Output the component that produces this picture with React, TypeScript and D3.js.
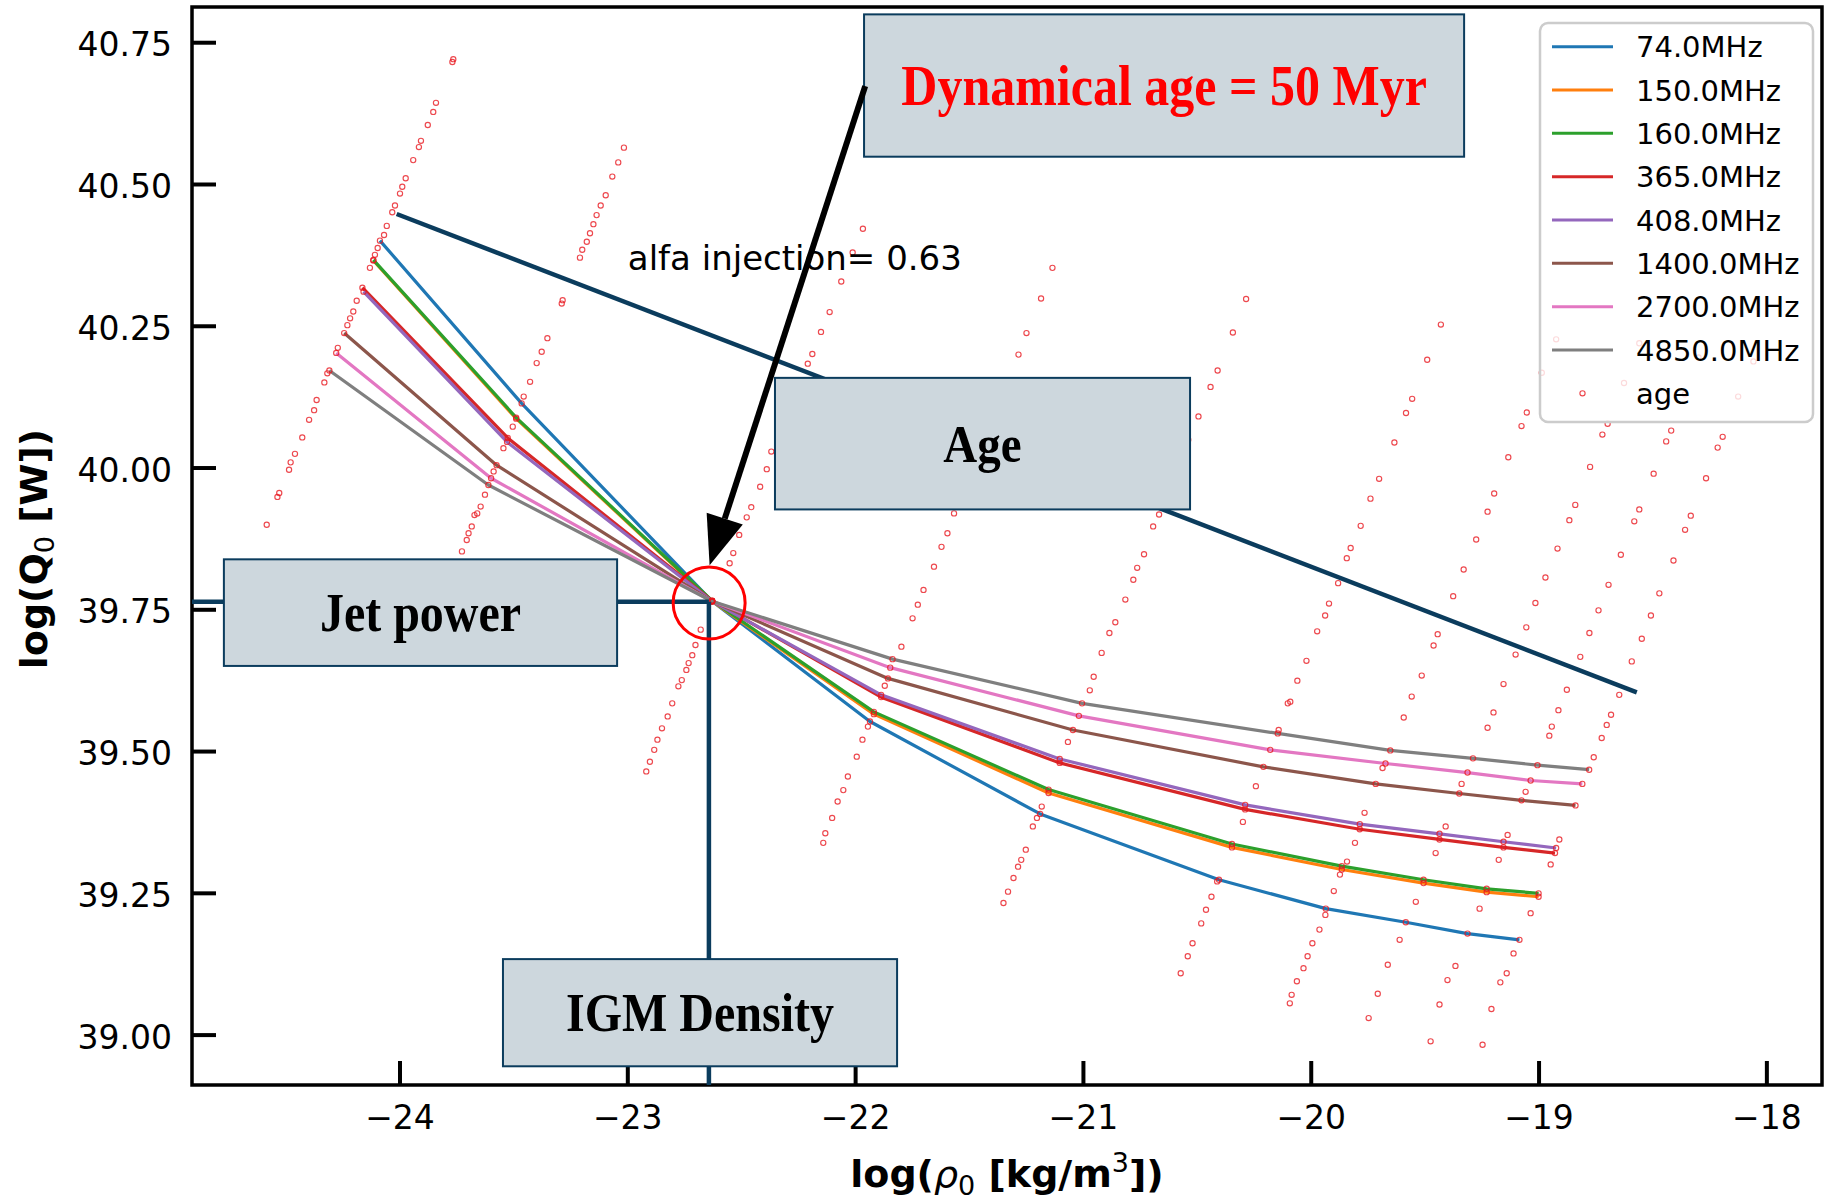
import React, { useEffect } from 'react';
import * as d3 from 'd3';

const W = 1826;
const H = 1204;

// Jet power vs. IGM density at the dynamical age, one curve per observing frequency
const freqLabels = ['74.0MHz', '150.0MHz', '160.0MHz', '365.0MHz', '408.0MHz', '1400.0MHz', '2700.0MHz', '4850.0MHz'];
const freqColors = ['#1f77b4', '#ff7f0e', '#2ca02c', '#d62728', '#9467bd', '#8c564b', '#e377c2', '#7f7f7f'];

const rho74 = [-24.088, -23.466, -22.63, -21.937, -21.19, -20.405, -19.936, -19.585, -19.314, -19.086];
const q74 = [40.401, 40.114, 39.765, 39.553, 39.39, 39.274, 39.223, 39.199, 39.179, 39.168];

const rho150 = [-24.117, -23.49, -22.63, -21.92, -21.153, -20.348, -19.866, -19.507, -19.23, -19.002];
const q150 = [40.366, 40.087, 39.765, 39.566, 39.427, 39.331, 39.292, 39.268, 39.252, 39.244];

const rho160 = [-24.117, -23.49, -22.63, -21.92, -21.153, -20.348, -19.866, -19.507, -19.23, -19.002];
const q160 = [40.367, 40.089, 39.766, 39.57, 39.433, 39.337, 39.298, 39.274, 39.258, 39.25];

const rho365 = [-24.165, -23.527, -22.63, -21.888, -21.104, -20.29, -19.787, -19.437, -19.156, -18.93];
const q365 = [40.318, 40.053, 39.766, 39.596, 39.48, 39.398, 39.363, 39.345, 39.331, 39.321];

const rho408 = [-24.16, -23.53, -22.63, -21.888, -21.104, -20.29, -19.787, -19.437, -19.156, -18.925];
const q408 = [40.311, 40.046, 39.765, 39.6, 39.487, 39.406, 39.372, 39.355, 39.341, 39.33];

const rho1400 = [-24.245, -23.576, -22.63, -21.858, -21.046, -20.21, -19.717, -19.35, -19.077, -18.84];
const q1400 = [40.238, 40.005, 39.765, 39.629, 39.538, 39.473, 39.443, 39.426, 39.414, 39.405];

const rho2700 = [-24.28, -23.6, -22.63, -21.848, -21.02, -20.18, -19.674, -19.314, -19.037, -18.81];
const q2700 = [40.203, 39.982, 39.765, 39.648, 39.563, 39.503, 39.479, 39.463, 39.449, 39.443];

const rho4850 = [-24.31, -23.612, -22.63, -21.838, -21.006, -20.147, -19.653, -19.29, -19.007, -18.78];
const q4850 = [40.172, 39.97, 39.765, 39.663, 39.585, 39.532, 39.502, 39.488, 39.476, 39.468];

// age tracks: (log rho0, log Q0) solutions, one track per density step
const ageTrack1: [number, number][] = [
  [-23.766, 40.721], [-23.770, 40.716], [-23.842, 40.644], [-23.854, 40.628], [-23.878, 40.605], [-23.908, 40.577],
  [-23.917, 40.566], [-23.942, 40.543], [-23.975, 40.511], [-23.990, 40.496], [-24.000, 40.484], [-24.022, 40.463],
  [-24.034, 40.451], [-24.058, 40.427], [-24.070, 40.411], [-24.098, 40.388], [-24.110, 40.376], [-24.132, 40.353],
  [-24.190, 40.295], [-24.205, 40.276], [-24.219, 40.264], [-24.231, 40.252], [-24.273, 40.212], [-24.319, 40.167],
  [-24.332, 40.151], [-24.366, 40.120], [-24.377, 40.102], [-24.399, 40.085], [-24.429, 40.054], [-24.461, 40.025],
  [-24.480, 40.010], [-24.487, 39.997], [-24.530, 39.956], [-24.538, 39.949], [-24.585, 39.900],
];
const ageTrack2: [number, number][] = [
  [-23.017, 40.565], [-23.042, 40.539], [-23.068, 40.514], [-23.097, 40.481], [-23.119, 40.463], [-23.137, 40.446],
  [-23.151, 40.430], [-23.166, 40.414], [-23.180, 40.399], [-23.200, 40.385], [-23.210, 40.371], [-23.286, 40.296],
  [-23.290, 40.290], [-23.353, 40.229], [-23.378, 40.205], [-23.400, 40.185], [-23.429, 40.152], [-23.457, 40.126],
  [-23.505, 40.073], [-23.546, 40.035], [-23.589, 39.994], [-23.627, 39.953], [-23.646, 39.932], [-23.661, 39.920],
  [-23.673, 39.917], [-23.685, 39.897], [-23.699, 39.885], [-23.707, 39.873], [-23.728, 39.853],
];
const ageTrack3: [number, number][] = [
  [-22.919, 39.465], [-22.903, 39.482], [-22.884, 39.503], [-22.870, 39.521], [-22.850, 39.541], [-22.825, 39.562],
  [-22.805, 39.585], [-22.778, 39.615], [-22.763, 39.626], [-22.743, 39.644], [-22.733, 39.656], [-22.717, 39.670],
  [-22.703, 39.688], [-22.680, 39.715], [-22.553, 39.832], [-22.537, 39.850], [-22.511, 39.882], [-22.478, 39.913],
  [-22.458, 39.931], [-22.419, 39.967], [-22.390, 39.998], [-22.370, 40.029], [-22.330, 40.070], [-22.270, 40.130],
  [-22.210, 40.184], [-22.190, 40.201], [-22.152, 40.240], [-22.114, 40.275], [-22.063, 40.329], [-22.013, 40.380],
  [-21.968, 40.422],
];
const ageTrack4: [number, number][] = [
  [-22.142, 39.339], [-22.133, 39.356], [-22.103, 39.383], [-22.079, 39.412], [-22.054, 39.432], [-22.034, 39.456],
  [-21.995, 39.491], [-21.970, 39.521], [-21.946, 39.544], [-21.872, 39.616], [-21.799, 39.685], [-21.750, 39.735],
  [-21.727, 39.759], [-21.702, 39.785], [-21.656, 39.826], [-21.623, 39.861], [-21.597, 39.885], [-21.568, 39.920],
  [-21.500, 39.990], [-21.420, 40.060], [-21.350, 40.130], [-21.285, 40.200], [-21.250, 40.238], [-21.186, 40.299],
  [-21.136, 40.353],
];
const ageTrack5: [number, number][] = [
  [-21.351, 39.233], [-21.331, 39.253], [-21.307, 39.277], [-21.287, 39.297], [-21.273, 39.309], [-21.253, 39.327],
  [-21.222, 39.368], [-21.204, 39.383], [-21.183, 39.403], [-21.068, 39.517], [-20.972, 39.608], [-20.955, 39.632],
  [-20.920, 39.674], [-20.886, 39.709], [-20.860, 39.728], [-20.816, 39.768], [-20.781, 39.803], [-20.764, 39.824],
  [-20.734, 39.848], [-20.694, 39.897], [-20.668, 39.918], [-20.600, 39.990], [-20.540, 40.050], [-20.495, 40.091],
  [-20.442, 40.143], [-20.411, 40.172], [-20.344, 40.239], [-20.286, 40.298],
];
const ageTrack6: [number, number][] = [
  [-20.573, 39.109], [-20.542, 39.139], [-20.521, 39.162], [-20.483, 39.197], [-20.462, 39.221], [-20.438, 39.244],
  [-20.413, 39.271], [-20.300, 39.376], [-20.243, 39.439], [-20.143, 39.538], [-20.103, 39.585], [-20.092, 39.588],
  [-20.061, 39.625], [-20.021, 39.660], [-19.974, 39.712], [-19.939, 39.740], [-19.922, 39.761], [-19.882, 39.797],
  [-19.844, 39.841], [-19.827, 39.859], [-19.783, 39.898], [-19.740, 39.946], [-19.702, 39.981], [-19.635, 40.045],
  [-19.584, 40.097], [-19.557, 40.122], [-19.491, 40.191], [-19.431, 40.253],
];
const ageTrack7: [number, number][] = [
  [-20.094, 39.056], [-20.086, 39.071], [-20.063, 39.095], [-20.034, 39.118], [-20.016, 39.139], [-19.995, 39.162],
  [-19.964, 39.186], [-19.938, 39.212], [-19.901, 39.254], [-19.874, 39.283], [-19.843, 39.306], [-19.808, 39.339],
  [-19.766, 39.392], [-19.687, 39.471], [-19.594, 39.560], [-19.559, 39.597], [-19.515, 39.634], [-19.463, 39.687],
  [-19.445, 39.707], [-19.377, 39.774], [-19.331, 39.821], [-19.276, 39.874], [-19.226, 39.923], [-19.197, 39.955],
  [-19.135, 40.019], [-19.077, 40.074], [-19.054, 40.098], [-18.988, 40.168], [-18.925, 40.227],
];
const ageTrack8: [number, number][] = [
  [-19.748, 39.030], [-19.708, 39.073], [-19.664, 39.124], [-19.612, 39.168], [-19.541, 39.235], [-19.454, 39.321],
  [-19.410, 39.368], [-19.340, 39.443], [-19.226, 39.542], [-19.200, 39.569], [-19.156, 39.619], [-19.103, 39.671],
  [-19.056, 39.719], [-19.016, 39.762], [-18.972, 39.807], [-18.919, 39.858], [-18.867, 39.908], [-18.841, 39.935],
  [-18.776, 40.002], [-18.722, 40.059], [-18.699, 40.078], [-18.627, 40.150], [-18.560, 40.220],
];
const ageTrack9: [number, number][] = [
  [-19.476, 38.989], [-19.437, 39.054], [-19.402, 39.097], [-19.367, 39.122], [-19.261, 39.223], [-19.177, 39.309],
  [-19.138, 39.353], [-19.059, 39.429], [-18.955, 39.528], [-18.944, 39.544], [-18.915, 39.573], [-18.878, 39.609],
  [-18.819, 39.667], [-18.779, 39.709], [-18.739, 39.749], [-18.695, 39.794], [-18.641, 39.847], [-18.582, 39.906],
  [-18.560, 39.927], [-18.497, 39.990], [-18.442, 40.047], [-18.420, 40.066], [-18.360, 40.130], [-18.300, 40.195],
];
const ageTrack10: [number, number][] = [
  [-19.248, 38.983], [-19.209, 39.046], [-19.170, 39.093], [-19.142, 39.109], [-19.112, 39.144], [-19.037, 39.215],
  [-18.949, 39.301], [-18.911, 39.345], [-18.760, 39.490], [-18.725, 39.524], [-18.703, 39.547], [-18.684, 39.565],
  [-18.648, 39.600], [-18.593, 39.659], [-18.549, 39.699], [-18.509, 39.740], [-18.472, 39.779], [-18.410, 39.837],
  [-18.359, 39.891], [-18.334, 39.916], [-18.267, 39.982], [-18.216, 40.036], [-18.194, 40.055], [-18.126, 40.126],
  [-18.059, 40.188],
];

const xTicks = [-24, -23, -22, -21, -20, -19, -18];
const yTicks = [39.0, 39.25, 39.5, 39.75, 40.0, 40.25, 40.5, 40.75];

const sans = "'DejaVu Sans', 'Liberation Sans', sans-serif";
const serif = "'Liberation Serif', 'Times New Roman', serif";
const navy = '#0b3c5d';
const boxFill = '#cdd7dd';

export default function App() {
  useEffect(() => {
    document.body.style.margin = '0';
    document.body.style.overflow = 'hidden';
  }, []);

  const x = d3.scaleLinear().domain([-24.913, -17.758]).range([192, 1822]);
  const y = d3.scaleLinear().domain([38.912, 40.813]).range([1085, 7]);
  const [xl, xr] = x.range();
  const [yb, yt] = y.range();

  const rhos = [rho74, rho150, rho160, rho365, rho408, rho1400, rho2700, rho4850];
  const qs = [q74, q150, q160, q365, q408, q1400, q2700, q4850];
  const series = freqLabels.map((label, i) => ({
    label,
    color: freqColors[i],
    pts: rhos[i].map((r, j) => [r, qs[i][j]] as [number, number]),
  }));

  const line = d3
    .line<[number, number]>()
    .x((d) => x(d[0]))
    .y((d) => y(d[1]));

  const ageTracks = [ageTrack1, ageTrack2, ageTrack3, ageTrack4, ageTrack5, ageTrack6, ageTrack7, ageTrack8, ageTrack9, ageTrack10];
  const ageDots: [number, number][] = [...ageTracks.flat(), ...series.flatMap((s) => s.pts)];

  const dotStyle = { fill: 'none', stroke: '#e8141c', strokeOpacity: 0.78, strokeWidth: 1.15 };

  // annotation boxes in data coordinates
  const boxes = [
    { x0: -21.963, x1: -19.329, y0: 40.549, y1: 40.8, text: 'Dynamical age = 50 Myr', color: '#ff0000', size: 50 },
    { x0: -22.354, x1: -20.532, y0: 39.927, y1: 40.159, text: 'Age', color: '#000', size: 47 },
    { x0: -24.773, x1: -23.047, y0: 39.651, y1: 39.839, text: 'Jet power', color: '#000', size: 48 },
    { x0: -23.548, x1: -21.818, y0: 38.945, y1: 39.134, text: 'IGM Density', color: '#000', size: 48 },
  ];
  const textStretch = 1.14;

  // arrow from the age box down to the crossing point
  const aStart = [x(-21.958), y(40.6735)];
  const aTip = [x(-22.641), y(39.8285)];
  const dx = aTip[0] - aStart[0];
  const dy = aTip[1] - aStart[1];
  const len = Math.hypot(dx, dy);
  const ux = dx / len;
  const uy = dy / len;
  const headLen = 49;
  const headHalf = 19;
  const base = [aTip[0] - ux * headLen, aTip[1] - uy * headLen];
  const headPts = [
    [aTip[0], aTip[1]],
    [base[0] + -uy * headHalf, base[1] + ux * headHalf],
    [base[0] - -uy * headHalf, base[1] - ux * headHalf],
  ]
    .map((p) => p.join(','))
    .join(' ');

  const legendX = 1540;
  const legendY = 23;
  const rowY = (i: number) => 46.7 + i * 43.33;

  const crossX = -22.644;
  const crossY = 39.764;

  return (
    <svg
      width={W}
      height={H}
      viewBox={`0 0 ${W} ${H}`}
      style={{ position: 'absolute', left: 0, top: 0, display: 'block', background: '#fff' }}
    >
      <rect x={0} y={0} width={W} height={H} fill="#fff" />

      <defs>
        <clipPath id="plotArea">
          <rect x={xl} y={yt} width={xr - xl} height={yb - yt} />
        </clipPath>
      </defs>

      <g clipPath="url(#plotArea)">
        {series.map((s) => (
          <path key={s.label} d={line(s.pts) || ''} fill="none" stroke={s.color} strokeWidth={3.2} strokeLinejoin="round" />
        ))}
        {ageDots.map((d, i) => (
          <circle key={i} cx={x(d[0])} cy={y(d[1])} r={2.6} {...dotStyle} />
        ))}
      </g>

      <text x={x(-23)} y={y(40.35)} fontFamily={sans} fontSize={34} fill="#000">
        alfa injection= 0.63
      </text>

      {/* legend */}
      <g>
        <rect
          x={legendX}
          y={legendY}
          width={273}
          height={399}
          rx={8}
          ry={8}
          fill="#fff"
          fillOpacity={0.8}
          stroke="#cccccc"
          strokeWidth={2.5}
        />
        {series.map((s, i) => (
          <g key={s.label}>
            <line x1={1552} x2={1613} y1={rowY(i)} y2={rowY(i)} stroke={s.color} strokeWidth={3} />
            <text x={1636} y={rowY(i) + 10.5} fontFamily={sans} fontSize={29} fill="#000">
              {s.label}
            </text>
          </g>
        ))}
        <circle cx={1582.5} cy={rowY(8)} r={2.6} {...dotStyle} />
        <text x={1636} y={rowY(8) + 10.5} fontFamily={sans} fontSize={29} fill="#000">
          age
        </text>
      </g>

      {/* axes frame */}
      <rect x={xl} y={yt} width={xr - xl} height={yb - yt} fill="none" stroke="#000" strokeWidth={3.5} />
      {yTicks.map((t) => (
        <g key={`y${t}`}>
          <line x1={xl} x2={xl + 24} y1={y(t)} y2={y(t)} stroke="#000" strokeWidth={4} />
          <text x={172} y={y(t) + 13.5} textAnchor="end" fontFamily={sans} fontSize={33} fill="#000">
            {t.toFixed(2)}
          </text>
        </g>
      ))}
      {xTicks.map((t) => (
        <g key={`x${t}`}>
          <line x1={x(t)} x2={x(t)} y1={yb} y2={yb - 24} stroke="#000" strokeWidth={4} />
          <text x={x(t)} y={1129} textAnchor="middle" fontFamily={sans} fontSize={33} fill="#000">
            {t < 0 ? `\u2212${Math.abs(t)}` : `${t}`}
          </text>
        </g>
      ))}

      <text
        transform={`translate(47,${(yt + yb) / 2 + 3}) rotate(-90)`}
        textAnchor="middle"
        fontFamily={sans}
        fontWeight="bold"
        fontSize={38}
        fill="#000"
      >
        log(Q
        <tspan fontWeight="normal" fontSize={27} dy={7}>
          0
        </tspan>
        <tspan dy={-7}> [W])</tspan>
      </text>

      <text x={(xl + xr) / 2} y={1187} textAnchor="middle" fontFamily={sans} fontWeight="bold" fontSize={38} fill="#000">
        log(
        <tspan fontStyle="italic" fontWeight="normal">
          ρ
        </tspan>
        <tspan fontWeight="normal" fontSize={27} dy={8}>
          0
        </tspan>
        <tspan dy={-8}> [kg/m</tspan>
        <tspan fontWeight="normal" fontSize={27} dy={-15}>
          3
        </tspan>
        <tspan dy={15}>])</tspan>
      </text>

      {/* guide lines */}
      <line x1={x(-24.0145)} y1={y(40.448)} x2={x(-18.571)} y2={y(39.6045)} stroke={navy} strokeWidth={4.5} />
      <line x1={xl} y1={y(crossY)} x2={x(crossX)} y2={y(crossY)} stroke={navy} strokeWidth={4.5} />
      <line x1={x(crossX)} y1={y(crossY)} x2={x(crossX)} y2={yb} stroke={navy} strokeWidth={4.5} />

      {boxes.map((b) => {
        const bx = x(b.x0);
        const by = y(b.y1);
        const bw = x(b.x1) - x(b.x0);
        const bh = y(b.y0) - y(b.y1);
        const baseline = by + bh / 2 + b.size * 0.34 * textStretch;
        return (
          <g key={b.text}>
            <rect x={bx} y={by} width={bw} height={bh} fill={boxFill} stroke={navy} strokeWidth={2} />
            <g transform={`translate(${bx + bw / 2},${baseline}) scale(1,${textStretch})`}>
              <text
                x={0}
                y={0}
                textAnchor="middle"
                fontFamily={serif}
                fontWeight="bold"
                fontSize={b.size}
                fill={b.color}
              >
                {b.text}
              </text>
            </g>
          </g>
        );
      })}

      <line x1={aStart[0]} y1={aStart[1]} x2={base[0]} y2={base[1]} stroke="#000" strokeWidth={6} />
      <polygon points={headPts} fill="#000" />

      <circle cx={x(-22.643)} cy={y(39.762)} r={36} fill="none" stroke="#ff0000" strokeWidth={3} />
    </svg>
  );
}
